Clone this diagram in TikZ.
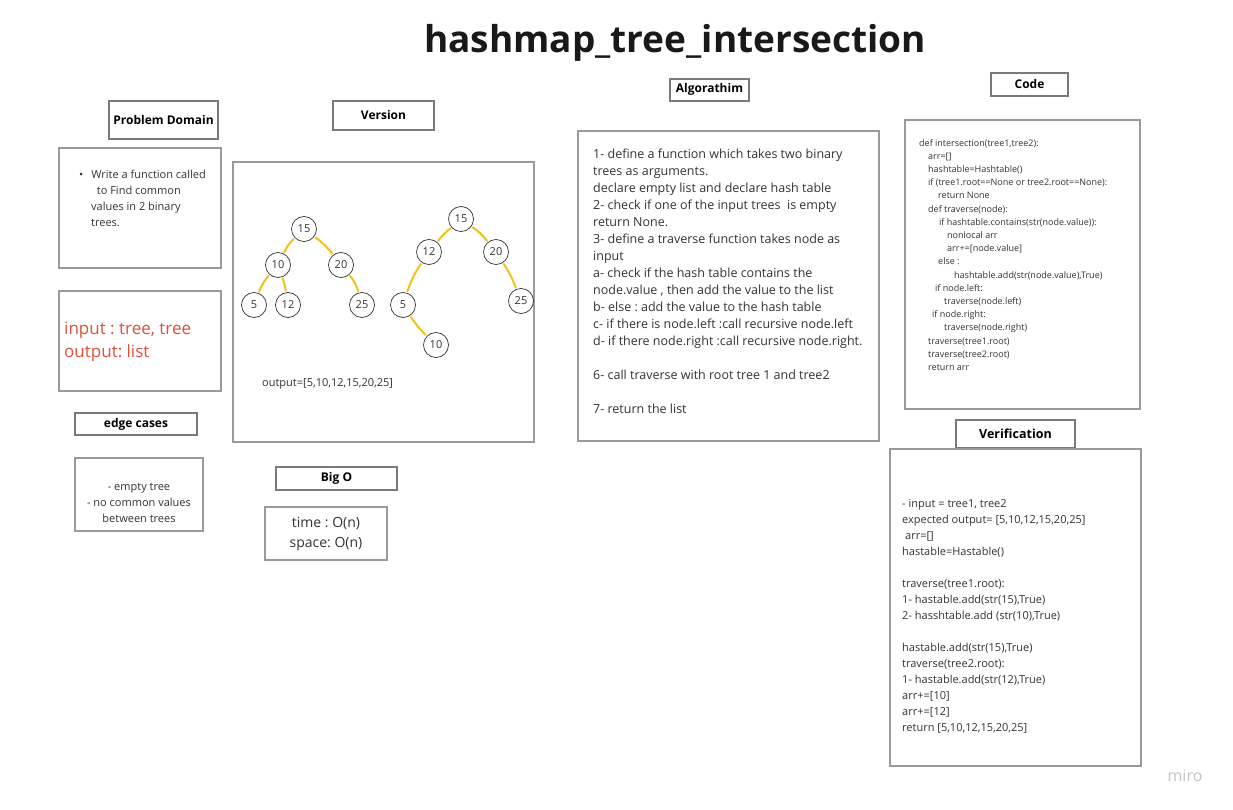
\documentclass[tikz,border=0pt]{standalone}
\usepackage{fontspec}
\setmainfont{Open Sans}
\frenchspacing
\definecolor{txt}{HTML}{333333}
\definecolor{boxc}{HTML}{9A9A9A}
\definecolor{hdrc}{HTML}{7A7A7A}
\definecolor{redtxt}{HTML}{DE503A}
\definecolor{yel}{HTML}{F2C21B}
\definecolor{mirogray}{HTML}{C4C4C4}
\newcommand{\fs}[2]{\fontsize{#1}{#2}\selectfont}
\tikzset{
  hdr/.style={draw=hdrc, line width=1.2pt},
  cbox/.style={draw=boxc, line width=1.1pt},
  hdrtext/.style={font=\fs{12}{14}\bfseries, text=black, inner sep=0pt},
  body/.style={anchor=north west, inner sep=0pt, align=left, text=txt},
  tn/.style={circle, draw=txt, line width=0.7pt, minimum size=25pt, inner sep=0pt, font=\fs{11}{13}, text=txt},
  tedge/.style={draw=yel, line width=2pt, line cap=round, shorten <=1.5pt, shorten >=1.5pt}
}
\begin{document}
\begin{tikzpicture}[x=1pt,y=-1pt]
\useasboundingbox[fill=white] (0,0) rectangle (1233,810);

% title
\node[inner sep=0pt, font=\fs{37}{44}\bfseries, text=black!90] (title) at (675,43) {hashmap\_tree\_intersection};

% Problem domain
\draw[hdr] (109,101) rectangle (218,139);
\node[hdrtext] (pdh) at (163.5,120) {Problem Domain};
\draw[cbox] (59,148) rectangle (221,268);
\node[body, font=\fs{11}{16}] (pdt) at (79,170) {\textbullet\hspace{8pt}Write a function called\\\hspace*{12pt}\ \ to Find common\\\hspace*{12pt}values in 2 binary\\\hspace*{12pt}trees.};

\draw[cbox] (59,291) rectangle (221,391);
\node[body, font=\fs{17}{23}, text=redtxt] (io) at (64,322) {input : tree, tree\\output: list};

% edge cases
\draw[hdr] (75,413) rectangle (197,435);
\node[hdrtext] (ech) at (136,424) {edge cases};
\draw[cbox] (75,458) rectangle (203,531);
\node[inner sep=0pt, align=center, font=\fs{11}{16}, text=txt] (ect) at (139,503) {- empty tree\\- no common values\\between trees};

% Version
\draw[hdr] (333,101) rectangle (434,130);
\node[hdrtext] (vh) at (383.5,115) {Version};
\draw[cbox] (233,162) rectangle (534,442);

% tree 1
\node[tn] (a15) at (304,229) {15};
\node[tn] (a10) at (278,265) {10};
\node[tn] (a20) at (341,265) {20};
\node[tn] (a5)  at (254,305) {5};
\node[tn] (a12) at (288,305) {12};
\node[tn] (a25) at (362,305) {25};
\draw[tedge] (a15) to[bend right=10] (a10);
\draw[tedge] (a15) to[bend left=8] (a20);
\draw[tedge] (a10) to[bend right=10] (a5);
\draw[tedge] (a10) to[bend left=5] (a12);
\draw[tedge] (a20) to[bend left=12] (a25);

% tree 2
\node[tn] (b15) at (461,219) {15};
\node[tn] (b12) at (429,252) {12};
\node[tn] (b20) at (496,252) {20};
\node[tn] (b5)  at (403,305) {5};
\node[tn] (b25) at (521,301) {25};
\node[tn] (b10) at (436,345) {10};
\draw[tedge] (b15) to[bend right=5] (b12);
\draw[tedge] (b15) to[bend left=8] (b20);
\draw[tedge] (b12) to[bend right=8] (b5);
\draw[tedge] (b20) to[bend left=6] (b25);
\draw[tedge] (b5) to[bend right=6] (b10);

\node[anchor=west, inner sep=0pt, font=\fs{11}{13}, text=txt] (outp) at (262,384) {output=[5,10,12,15,20,25]};

% Big O
\draw[hdr] (276,467) rectangle (397,490);
\node[hdrtext] (boh) at (336.5,478) {Big O};
\draw[cbox] (265,507) rectangle (387,560);
\node[inner sep=0pt, align=center, font=\fs{14}{20}, text=txt] (bot) at (326,534) {time : O(n)\\space: O(n)};

% Algorithm
\draw[hdr] (670,79) rectangle (749,101);
\node[hdrtext] (alh) at (709.5,89) {Algorathim};
\draw[cbox] (578,131) rectangle (879,441);
\node[body, font=\fs{12.5}{17}] (alt) at (593,149) {1- define a function which takes two binary\\trees as arguments.\\declare empty list and declare hash table\\2- check if one of the input trees\ \ is empty\\return None.\\3- define a traverse function takes node as\\input\\a- check if the hash table contains the\\node.value , then add the value to the list\\b- else : add the value to the hash table\\c- if there is node.left :call recursive node.left\\d- if there node.right :call recursive node.right.\\[17pt]6- call traverse with root tree 1 and tree2\\[17pt]7- return the list};

% Code
\draw[hdr] (991,73) rectangle (1068,96);
\node[hdrtext] (coh) at (1029.5,84) {Code};
\draw[cbox] (905,120) rectangle (1140,409);
\node[body, font=\fs{9}{13.2}] (cot) at (919,139) {def intersection(tree1,tree2):\\
\hspace*{9pt}arr=[]\\
\hspace*{9pt}hashtable=Hashtable()\\
\hspace*{9pt}if (tree1.root==None or tree2.root==None):\\
\hspace*{19pt}return None\\
\hspace*{9pt}def traverse(node):\\
\hspace*{20pt}if hashtable.contains(str(node.value)):\\
\hspace*{28pt}nonlocal arr\\
\hspace*{28pt}arr+=[node.value]\\
\hspace*{19pt}else :\\
\hspace*{35pt}hashtable.add(str(node.value),True)\\
\hspace*{16pt}if node.left:\\
\hspace*{25pt}traverse(node.left)\\
\hspace*{13pt}if node.right:\\
\hspace*{25pt}traverse(node.right)\\
\hspace*{9pt}traverse(tree1.root)\\
\hspace*{9pt}traverse(tree2.root)\\
\hspace*{9pt}return arr};

% Verification
\draw[hdr] (956,420) rectangle (1075,448);
\node[hdrtext, font=\fs{12.5}{14}\bfseries] (veh) at (1015.5,434) {Verification};
\draw[cbox] (890,449) rectangle (1141,766);
\node[body, font=\fs{11}{16}] (vet) at (902,499) {- input = tree1, tree2\\expected output= [5,10,12,15,20,25]\\\hspace*{3pt}arr=[]\\hastable=Hastable()\\[16pt]traverse(tree1.root):\\1- hastable.add(str(15),True)\\2- hasshtable.add (str(10),True)\\[16pt]hastable.add(str(15),True)\\traverse(tree2.root):\\1- hastable.add(str(12),True)\\arr+=[10]\\arr+=[12]\\return [5,10,12,15,20,25]};

% watermark
\node[inner sep=0pt, font=\fs{16}{18}, text=mirogray] (miro) at (1185,776) {miro};
\end{tikzpicture}
\end{document}
